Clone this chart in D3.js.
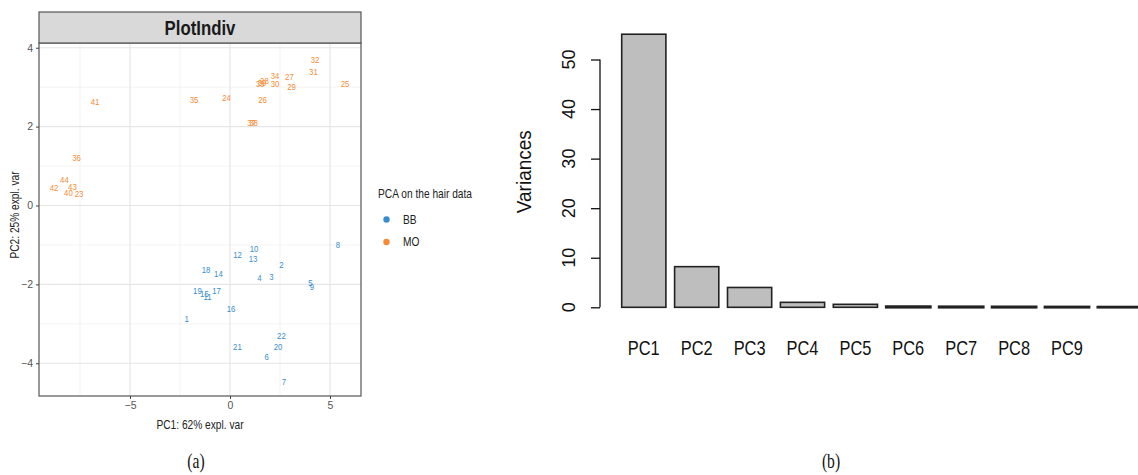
<!DOCTYPE html>
<html>
<head>
<meta charset="utf-8">
<script src="https://cdn.jsdelivr.net/npm/d3@7"></script>
<style>
  body { margin: 0; background: #fff; }
</style>
</head>
<body>
<div id="chart"></div>
<script>
// individuals, group BB
let bbNames = ["1","2","3","4","5","6","7","8","9","10","11","12","13","14","15","16","17","18","19","20","21","22"];
let bbPC1 = [-2.17, 2.57, 2.07, 1.47, 4.02, 1.83, 2.7, 5.4, 4.1, 1.2, -1.12, 0.38, 1.15, -0.58, -1.28, 0.05, -0.67, -1.2, -1.63, 2.4, 0.37, 2.57];
let bbPC2 = [-2.88, -1.49, -1.80, -1.84, -1.97, -3.83, -4.47, -1.0, -2.06, -1.085, -2.31, -1.25, -1.36, -1.72, -2.23, -2.61, -2.17, -1.62, -2.17, -3.58, -3.58, -3.31];
// individuals, group MO
let moNames = ["23","24","25","26","27","28","29","30","31","32","33","34","35","36","37","38","39","40","41","42","43","44"];
let moPC1 = [-7.55, -0.17, 5.75, 1.63, 2.97, 1.72, 3.08, 2.25, 4.17, 4.25, 1.5, 2.25, -1.8, -7.67, 1.08, 1.18, 1.6, -8.08, -6.75, -8.8, -7.88, -8.28];
let moPC2 = [0.29, 2.73, 3.08, 2.67, 3.27, 3.16, 3.0, 3.08, 3.38, 3.69, 3.08, 3.29, 2.67, 1.20, 2.10, 2.10, 3.12, 0.32, 2.63, 0.46, 0.48, 0.66];

let groups = ["BB", "MO"];
let groupColors = ["#388ECC", "#F68B33"];
let xTicks = [-5, 0, 5];
let yTicks = [-4, -2, 0, 2, 4];
let xMinor = [-7.5, -2.5, 2.5];
let yMinor = [-3, -1, 1, 3];

// scree plot
let pcNames = ["PC1","PC2","PC3","PC4","PC5","PC6","PC7","PC8","PC9","PC10"];
let variances = [55.1, 8.2, 4.0, 1.0, 0.6, 0.15, 0.12, 0.1, 0.08, 0.06];
let pcLabels = ["PC1","PC2","PC3","PC4","PC5","PC6","PC7","PC8","PC9"];
let varTicks = [0, 10, 20, 30, 40, 50];

const SANS = "'Liberation Sans', Arial, sans-serif";
const SERIF = "'Liberation Serif', 'Times New Roman', serif";

let width = 1138, height = 475;
let svg = d3.select("#chart").append("svg")
  .attr("width", width)
  .attr("height", height)
  .style("font-family", SANS);

// text helper: narrow font look
function label(g, x, y, txt, size, sx, rot) {
  return g.append("text")
    .attr("transform", "translate(" + x + "," + y + ")" + (rot ? " rotate(" + rot + ")" : "") + " scale(" + sx + ",1)")
    .attr("font-size", size)
    .text(txt);
}

// ---------- left panel ----------
let pL = 39, pR = 361, pT = 43, pB = 396, sT = 12;
let x = d3.scaleLinear().domain([-9.55, 6.55]).range([pL, pR]);
let y = d3.scaleLinear().domain([4.12, -4.83]).range([pT, pB]);

const left = svg.append("g");

left.append("rect").attr("x", pL).attr("y", pT).attr("width", pR - pL).attr("height", pB - pT).attr("fill", "#fff");

left.selectAll(".xmin").data(xMinor).enter().append("line")
  .attr("x1", d => x(d)).attr("x2", d => x(d)).attr("y1", pT).attr("y2", pB)
  .attr("stroke", "#f0f0f0").attr("stroke-width", 0.8);
left.selectAll(".ymin").data(yMinor).enter().append("line")
  .attr("y1", d => y(d)).attr("y2", d => y(d)).attr("x1", pL).attr("x2", pR)
  .attr("stroke", "#f0f0f0").attr("stroke-width", 0.8);
left.selectAll(".xmaj").data(xTicks).enter().append("line")
  .attr("x1", d => x(d)).attr("x2", d => x(d)).attr("y1", pT).attr("y2", pB)
  .attr("stroke", "#e6e6e6").attr("stroke-width", 1.2);
left.selectAll(".ymaj").data(yTicks).enter().append("line")
  .attr("y1", d => y(d)).attr("y2", d => y(d)).attr("x1", pL).attr("x2", pR)
  .attr("stroke", "#e6e6e6").attr("stroke-width", 1.2);

// points drawn as their names
let pts = [];
bbNames.forEach((n, i) => pts.push({name: n, pc1: bbPC1[i], pc2: bbPC2[i], grp: 0}));
moNames.forEach((n, i) => pts.push({name: n, pc1: moPC1[i], pc2: moPC2[i], grp: 1}));

left.append("g").selectAll("text").data(pts).enter().append("text")
  .attr("transform", d => "translate(" + x(d.pc1) + "," + y(d.pc2) + ") scale(0.82,1)")
  .attr("text-anchor", "middle")
  .attr("dominant-baseline", "central")
  .attr("font-size", 9.5)
  .attr("fill", d => groupColors[d.grp])
  .text(d => d.name);

// panel border + strip
left.append("rect").attr("x", pL).attr("y", pT).attr("width", pR - pL).attr("height", pB - pT)
  .attr("fill", "none").attr("stroke", "#555").attr("stroke-width", 1.2);
left.append("rect").attr("x", pL).attr("y", sT).attr("width", pR - pL).attr("height", pT - sT)
  .attr("fill", "#d9d9d9").attr("stroke", "#555").attr("stroke-width", 1.2);
label(left, (pL + pR) / 2, 35, "PlotIndiv", 20, 0.84)
  .attr("text-anchor", "middle").attr("font-weight", "bold").attr("fill", "#1a1a1a");

// axes
const xAxis = left.append("g").attr("transform", "translate(0," + pB + ")")
  .call(d3.axisBottom(x).tickValues(xTicks).tickSize(3).tickPadding(3));
const yAxis = left.append("g").attr("transform", "translate(" + pL + ",0)")
  .call(d3.axisLeft(y).tickValues(yTicks).tickSize(3).tickPadding(3));
[xAxis, yAxis].forEach(a => {
  a.select(".domain").remove();
  a.selectAll("line").attr("stroke", "#444");
  a.selectAll("text").attr("font-size", 10.5).attr("fill", "#555")
    .attr("font-family", SANS);
});

label(left, 200, 429, "PC1: 62% expl. var", 12, 0.85).attr("text-anchor", "middle").attr("fill", "#222");
label(left, 19, 215, "PC2: 25% expl. var", 12, 0.85, -90).attr("text-anchor", "middle").attr("fill", "#222");

// legend
label(left, 378, 198, "PCA on the hair data", 12, 0.85).attr("fill", "#222");
const leg = left.append("g").selectAll("g").data(groups).enter().append("g");
leg.append("circle").attr("cx", 386.5).attr("cy", (d, i) => 219.5 + i * 22.5).attr("r", 3.2)
  .attr("fill", (d, i) => groupColors[i]);
leg.append("text")
  .attr("transform", (d, i) => "translate(403," + (223.5 + i * 22.5) + ") scale(0.85,1)")
  .attr("font-size", 12).attr("fill", "#222")
  .text(d => d);

// ---------- right panel: scree plot ----------
const right = svg.append("g");
let xb = d3.scaleBand().domain(pcNames).range([613, 1150.7]).paddingInner(0.1645).paddingOuter(0.1645);
let yb = d3.scaleLinear().domain([0, 50]).range([307.3, 59.5]);

right.selectAll("rect").data(pcNames).enter().append("rect")
  .attr("x", d => xb(d))
  .attr("width", xb.bandwidth())
  .attr("y", (d, i) => yb(variances[i]))
  .attr("height", (d, i) => yb(0) - yb(variances[i]))
  .attr("fill", "#bebebe")
  .attr("stroke", "#222")
  .attr("stroke-width", (d, i) => variances[i] < 0.3 ? 2.6 : 1.6);

const vAxis = right.append("g").attr("transform", "translate(600,0)")
  .call(d3.axisLeft(yb).tickValues(varTicks).tickSize(9).tickFormat(""));
vAxis.select(".domain").attr("d", "M0," + yb(0) + "V" + yb(50)).attr("stroke", "#111").attr("stroke-width", 1.3);
vAxis.selectAll("line").attr("stroke", "#111").attr("stroke-width", 1.3);

right.append("g").selectAll("text").data(varTicks).enter().append("text")
  .attr("transform", d => "translate(568," + yb(d) + ") rotate(-90) scale(0.95,1)")
  .attr("text-anchor", "middle").attr("dominant-baseline", "central")
  .attr("font-size", 19).attr("fill", "#111")
  .text(d => d);

right.append("g").selectAll("text").data(pcLabels).enter().append("text")
  .attr("transform", d => "translate(" + (xb(d) + xb.bandwidth() / 2) + ",355) scale(0.82,1)")
  .attr("text-anchor", "middle")
  .attr("font-size", 20).attr("fill", "#111")
  .text(d => d);

label(right, 531, 171.7, "Variances", 20, 0.95, -90).attr("text-anchor", "middle").attr("fill", "#111");

// captions
[["(a)", 196], ["(b)", 831]].forEach(c => {
  label(svg, c[1], 468, c[0], 20, 0.78)
    .attr("text-anchor", "middle")
    .style("font-family", SERIF)
    .attr("fill", "#111");
});
</script>
</body>
</html>
